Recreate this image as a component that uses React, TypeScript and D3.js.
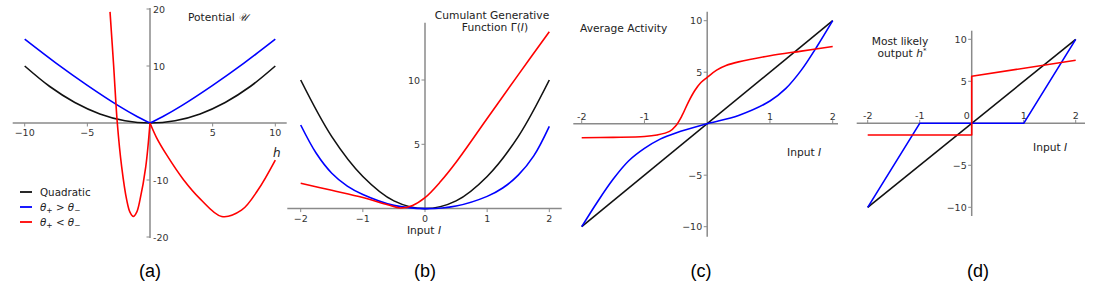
import React from 'react';
import * as d3 from 'd3';

// ---- data ----

// (a) potential U(h)
const aQuadH = [-10, -8, -6, -4, -2, 0, 2, 4, 6, 8, 10];
const aQuadU = [10, 6.4, 3.6, 1.6, 0.4, 0, 0.4, 1.6, 3.6, 6.4, 10];
const aBlueLeftH = [-10, -7.5, -5, -2.5, -1, 0];
const aBlueLeftU = [14.7, 10.5, 6.6, 3.0, 1.1, 0];
const aBlueRightH = [0, 1, 2.5, 5, 7.5, 10];
const aBlueRightU = [0, 1.1, 3.0, 6.6, 10.5, 14.7];
const aRedLeftH = [-3.19, -2.9, -2.61, -2.26, -1.86, -1.6, -1.33, -1.06, -0.8, -0.34, 0];
const aRedLeftU = [19.5, 10, 0, -7.7, -13.5, -15.65, -16.4, -15.65, -13.5, -7.7, 0];
const aRedRightH = [0, 0.53, 1.33, 2.66, 4.0, 5.72, 7.3, 8.6, 10];
const aRedRightU = [0, -2.6, -5.6, -9.9, -13.3, -16.4, -15.3, -11.8, -6.5];

// (b) cumulant generating function
const bQuadI = [-2, -1.5, -1, -0.5, 0, 0.5, 1, 1.5, 2];
const bQuadG = [10, 5.6, 2.5, 0.6, 0, 0.6, 2.5, 5.6, 10];
const bBlueI = [-2, -1.75, -1.5, -1.25, -1.0, -0.5, 0, 0.5, 1.0, 1.25, 1.5, 1.75, 2];
const bBlueG = [6.5, 4.3, 2.75, 1.75, 1.1, 0.25, 0, 0.2, 0.95, 1.6, 2.6, 4.1, 6.4];
const bRedI = [-2, -1.5, -1, -0.6, -0.4, -0.2, 0, 0.25, 0.5, 1, 1.5, 2];
const bRedG = [1.97, 1.42, 0.86, 0.3, 0.05, 0.25, 0.85, 2.1, 3.6, 7.0, 10.4, 13.75];

// (c) average activity
const cLineI = [-2, 2];
const cLineA = [-10, 10];
const cBlueI = [-2, -1.75, -1.5, -1.25, -1.0, -0.75, -0.5, 0, 0.5, 1.0, 1.25, 1.5, 1.75, 2];
const cBlueA = [-10, -7.6, -5.4, -3.6, -2.4, -1.5, -0.9, 0, 0.8, 2.2, 3.4, 5.2, 7.5, 10];
const cRedI = [-2, -1.5, -1, -0.8, -0.6, -0.5, -0.4, -0.3, -0.2, -0.1, 0, 0.15, 0.3, 0.5, 1, 1.5, 2];
const cRedA = [-1.36, -1.33, -1.25, -1.1, -0.75, -0.2, 0.8, 2.1, 3.2, 4.0, 4.5, 5.2, 5.65, 6.0, 6.6, 7.05, 7.5];

// (d) most likely output
const dLineI = [-2, 2];
const dLineH = [-10, 10];
const dBlueI = [-2, -1, 1, 2];
const dBlueH = [-10, 0, 0, 10];
const dRedI = [-2, 0, 0, 2];
const dRedH = [-1.4, -1.4, 5.6, 7.5];

// tick labels
const aXTicks = [-10, -5, 5, 10];
const aXTickLabels = ['−10', '−5', '5', '10'];
const aYTicks = [20, 10, -10, -20];
const aYTickLabels = ['20', '10', '-10', '-20'];
const bXTicks = [-2, -1, 0, 1, 2];
const bXTickLabels = ['−2', '−1', '0', '1', '2'];
const bYTicks = [5, 10];
const bYTickLabels = ['5', '10'];
const cXTicks = [-2, -1, 1, 2];
const cXTickLabels = ['-2', '-1', '1', '2'];
const cYTicks = [10, 5, -5, -10];
const cYTickLabels = ['10', '5', '−5', '−10'];
const dXTicks = [-2, -1, 0, 1, 2];
const dXTickLabels = ['-2', '-1', '0', '1', '2'];
const dYTicks = [10, 5, -5, -10];
const dYTickLabels = ['10', '5', '−5', '−10'];

const legendLabels = ['Quadratic', 'θ+ > θ−', 'θ+ < θ−'];

// ---- drawing ----

const BLACK = '#111';
const BLUE = '#0000ff';
const RED = '#ff0000';
const AXIS = '#8a8a8a';
const TEXT = '#333';
const FONT = '"DejaVu Sans", sans-serif';

type Seg = { xs: number[]; ys: number[]; color: string; smooth: boolean };

type PanelCfg = {
    xDomain: [number, number];
    xRange: [number, number];
    yDomain: [number, number];
    yRange: [number, number];
    xAxisSpan: [number, number];
    yAxisSpan: [number, number];
    xTicks: number[];
    xTickLabels: string[];
    xLabelsAbove: boolean;
    yTicks: number[];
    yTickLabels: string[];
    yLabelsRight: boolean;
    segs: Seg[];
    zeroNudge?: number;
};

function Panel({ cfg }: { cfg: PanelCfg }) {
    const x = d3.scaleLinear().domain(cfg.xDomain).range(cfg.xRange);
    const y = d3.scaleLinear().domain(cfg.yDomain).range(cfg.yRange);
    const x0 = x(0);
    const y0 = y(0);

    return (
        <g>
            {/* spines */}
            <line x1={cfg.xAxisSpan[0]} x2={cfg.xAxisSpan[1]} y1={y0} y2={y0} stroke={AXIS} strokeWidth={1.5} />
            <line x1={x0} x2={x0} y1={cfg.yAxisSpan[0]} y2={cfg.yAxisSpan[1]} stroke={AXIS} strokeWidth={1.5} />

            {/* x ticks */}
            {cfg.xTicks.map((t, i) => {
                const px = x(t);
                const dir = cfg.xLabelsAbove ? -1 : 1;
                return (
                    <g key={'xt' + i}>
                        <line x1={px} x2={px} y1={y0} y2={y0 + dir * 3.5} stroke={AXIS} strokeWidth={1} />
                        <text
                            x={t === 0 && cfg.zeroNudge ? px + cfg.zeroNudge : px}
                            y={cfg.xLabelsAbove ? y0 - 4 : y0 + 13}
                            textAnchor="middle"
                            fontSize={9.5}
                            fill={TEXT}
                            fontFamily={FONT}
                        >
                            {cfg.xTickLabels[i]}
                        </text>
                    </g>
                );
            })}

            {/* y ticks */}
            {cfg.yTicks.map((t, i) => {
                const py = y(t);
                return (
                    <g key={'yt' + i}>
                        <line x1={x0} x2={x0 - 3.5} y1={py} y2={py} stroke={AXIS} strokeWidth={1} />
                        <text
                            x={cfg.yLabelsRight ? x0 + 3 : x0 - 5}
                            y={py + 3.5}
                            textAnchor={cfg.yLabelsRight ? 'start' : 'end'}
                            fontSize={9.5}
                            fill={TEXT}
                            fontFamily={FONT}
                        >
                            {cfg.yTickLabels[i]}
                        </text>
                    </g>
                );
            })}

            {/* curves */}
            {cfg.segs.map((s, i) => {
                const pts = s.xs.map((v, j) => [v, s.ys[j]] as [number, number]);
                const line = d3.line<[number, number]>()
                    .x((d) => x(d[0]))
                    .y((d) => y(d[1]))
                    .curve(s.smooth ? d3.curveCatmullRom.alpha(0.5) : d3.curveLinear);
                return (
                    <path key={'s' + i} d={line(pts) || ''} fill="none" stroke={s.color} strokeWidth={1.6} strokeLinejoin="round" />
                );
            })}
        </g>
    );
}

const panelA: PanelCfg = {
    xDomain: [-10, 10], xRange: [24.7, 275.3],
    yDomain: [-20, 20], yRange: [237, 9],
    xAxisSpan: [12.7, 286.7], yAxisSpan: [8, 238],
    xTicks: aXTicks, xTickLabels: aXTickLabels, xLabelsAbove: false,
    yTicks: aYTicks, yTickLabels: aYTickLabels, yLabelsRight: true,
    segs: [
        { xs: aQuadH, ys: aQuadU, color: BLACK, smooth: true },
        { xs: aBlueLeftH, ys: aBlueLeftU, color: BLUE, smooth: true },
        { xs: aBlueRightH, ys: aBlueRightU, color: BLUE, smooth: true },
        { xs: aRedLeftH, ys: aRedLeftU, color: RED, smooth: true },
        { xs: aRedRightH, ys: aRedRightU, color: RED, smooth: true },
    ],
};

const panelB: PanelCfg = {
    xDomain: [-2, 2], xRange: [300.7, 549.3],
    yDomain: [0, 10], yRange: [208.6, 80],
    xAxisSpan: [287.3, 561.7], yAxisSpan: [22.7, 208.6],
    xTicks: bXTicks, xTickLabels: bXTickLabels, xLabelsAbove: false,
    yTicks: bYTicks, yTickLabels: bYTickLabels, yLabelsRight: false,
    segs: [
        { xs: bQuadI, ys: bQuadG, color: BLACK, smooth: true },
        { xs: bBlueI, ys: bBlueG, color: BLUE, smooth: true },
        { xs: bRedI, ys: bRedG, color: RED, smooth: true },
    ],
};

const panelC: PanelCfg = {
    xDomain: [-2, 2], xRange: [581.7, 832.7],
    yDomain: [-10, 10], yRange: [226.7, 20.7],
    xAxisSpan: [573.3, 838], yAxisSpan: [11.7, 236.7],
    xTicks: cXTicks, xTickLabels: cXTickLabels, xLabelsAbove: true,
    yTicks: cYTicks, yTickLabels: cYTickLabels, yLabelsRight: false,
    segs: [
        { xs: cLineI, ys: cLineA, color: BLACK, smooth: false },
        { xs: cBlueI, ys: cBlueA, color: BLUE, smooth: true },
        { xs: cRedI, ys: cRedA, color: RED, smooth: true },
    ],
};

const panelD: PanelCfg = {
    xDomain: [-2, 2], xRange: [867.7, 1075.7],
    yDomain: [-10, 10], yRange: [207.3, 39.3],
    xAxisSpan: [856.7, 1085], yAxisSpan: [30.7, 216],
    xTicks: dXTicks, xTickLabels: dXTickLabels, xLabelsAbove: true,
    yTicks: dYTicks, yTickLabels: dYTickLabels, yLabelsRight: false,
    zeroNudge: -5,
    segs: [
        { xs: dLineI, ys: dLineH, color: BLACK, smooth: false },
        { xs: dBlueI, ys: dBlueH, color: BLUE, smooth: false },
        { xs: dRedI, ys: dRedH, color: RED, smooth: false },
    ],
};

function Theta({ rel }: { rel: string }) {
    // θ+ > θ− / θ+ < θ− with subscripts
    return (
        <>
            <tspan fontStyle="italic">θ</tspan>
            <tspan dy={2.5} fontSize={7.5}>+</tspan>
            <tspan dy={-2.5}> {rel} </tspan>
            <tspan fontStyle="italic">θ</tspan>
            <tspan dy={2.5} fontSize={7.5}>−</tspan>
        </>
    );
}

export default function App() {
    const legendColors = [BLACK, BLUE, RED];
    const captions = ['(a)', '(b)', '(c)', '(d)'];
    const captionX = [150, 425, 701, 978];
    return (
        <svg width={1095} height={292} style={{ position: 'absolute', left: 0, top: 0, background: '#fff' }}>
            <rect width={1095} height={292} fill="#fff" />
            <Panel cfg={panelA} />
            <Panel cfg={panelB} />
            <Panel cfg={panelC} />
            <Panel cfg={panelD} />

            <g fontFamily={FONT} fill="#222">
                {/* (a) labels */}
                <text x={188} y={21} fontSize={10.7}>Potential <tspan fontStyle="italic" fontFamily="'DejaVu Serif', serif">𝒰</tspan></text>
                <text x={273} y={157} fontSize={12} fontStyle="italic">h</text>
                {legendLabels.map((l, i) => (
                    <g key={l}>
                        <line x1={20} x2={32} y1={192 + i * 15} y2={192 + i * 15} stroke={legendColors[i]} strokeWidth={1.8} />
                        <text x={40} y={195.5 + i * 15} fontSize={10.3}>
                            {i === 0 ? l : <Theta rel={i === 1 ? '>' : '<'} />}
                        </text>
                    </g>
                ))}

                {/* (b) labels */}
                <text x={492} y={19} fontSize={10.7} textAnchor="middle">Cumulant Generative</text>
                <text x={495} y={31} fontSize={10.7} textAnchor="middle">Function Γ(<tspan fontStyle="italic">I</tspan>)</text>
                <text x={424} y={234} fontSize={10.7} textAnchor="middle">Input <tspan fontStyle="italic">I</tspan></text>

                {/* (c) labels */}
                <text x={580} y={32} fontSize={10.7}>Average Activity</text>
                <text x={787} y={156} fontSize={10.7}>Input <tspan fontStyle="italic">I</tspan></text>

                {/* (d) labels */}
                <text x={900} y={45} fontSize={10.7} textAnchor="middle">Most likely</text>
                <text x={902} y={57} fontSize={10.7} textAnchor="middle">output <tspan fontStyle="italic">h</tspan><tspan dy={-4} fontSize={7}>*</tspan></text>
                <text x={1033} y={151} fontSize={10.7}>Input <tspan fontStyle="italic">I</tspan></text>
            </g>

            {captions.map((c, i) => (
                <text key={c} x={captionX[i]} y={277} fontSize={18} textAnchor="middle" fontFamily='"Liberation Sans", Arial, sans-serif' fill="#000">
                    {c}
                </text>
            ))}
        </svg>
    );
}
